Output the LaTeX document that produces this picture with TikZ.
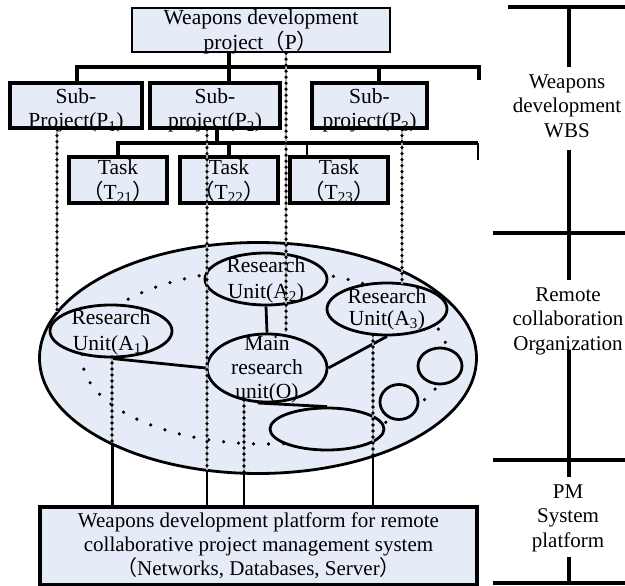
\documentclass[tikz,border=0pt]{standalone}
\usepackage{fontspec}
\setmainfont{Liberation Serif}
\newfontfamily\cjk{Noto Sans CJK SC}
\usetikzlibrary{shapes.geometric}
\definecolor{fillblue}{RGB}{229,235,247}
\newcommand{\lpar}{{\cjk （}}
\newcommand{\rpar}{{\cjk ）}}
\begin{document}
\begin{tikzpicture}[x=1pt,y=-1pt,
  every node/.style={font=\fontsize{21.5}{24.5}\selectfont, align=center, inner sep=0pt},
  box/.style={draw, line width=3.2pt, fill=fillblue},
  bar/.style={line width=4pt, line join=miter},
  thinbar/.style={line width=2pt},
  unit/.style={ellipse, draw, line width=2.8pt, fill=fillblue, inner sep=0pt},
  link/.style={line width=2.8pt},
  droplink/.style={line width=2.2pt},
  dotline/.style={draw=black!30, line width=1.5pt,
     postaction={draw=black, line width=3.6pt, line cap=round, dash pattern=on 0pt off 6pt}},
  ringdots/.style={line width=3.6pt, line cap=round, dash pattern=on 0pt off 15pt},
  rule/.style={line width=4pt},
  side/.style={font=\fontsize{21}{24.5}\selectfont}
]
\useasboundingbox (0,0) rectangle (625,586);

% ---------- WBS tree ----------
\node[box, line width=2.4pt, minimum width=258pt, minimum height=44pt] (p) at (261,30) {};
\node[box, minimum width=132pt, minimum height=45pt] (p1) at (76,105.5) {};
\node[box, minimum width=130pt, minimum height=45pt] (p2) at (215,105.5) {};
\node[box, minimum width=115pt, minimum height=45pt] (p3) at (369.5,105.5) {};
\node[box, minimum width=98pt, minimum height=46pt] (t21) at (118,180) {};
\node[box, minimum width=98pt, minimum height=46pt] (t22) at (229,180) {};
\node[box, minimum width=98pt, minimum height=46pt] (t23) at (339,180) {};

\node[yshift=-2pt] (pt) at (p.center) {Weapons development\\project\lpar P\rpar};
\node[yshift=-5pt] (p1t) at (p1.center) {Sub-\\Project(P\textsubscript{1})};
\node[yshift=-5pt] (p2t) at (p2.center) {Sub-\\project(P\textsubscript{2})};
\node[yshift=-5pt] (p3t) at (p3.center) {Sub-\\project(P\textsubscript{3})};
\node[yshift=-1pt] (t21t) at (t21.center) {Task\\\lpar T\textsubscript{21}\rpar};
\node[yshift=-1pt] (t22t) at (t22.center) {Task\\\lpar T\textsubscript{22}\rpar};
\node[yshift=-1pt] (t23t) at (t23.center) {Task\\\lpar T\textsubscript{23}\rpar};

\coordinate (ja) at (77,67);
\coordinate (j0) at (229,67);
\coordinate (jb) at (379,67);
\coordinate (jc) at (479,67);
\coordinate (jd) at (479,80);
\draw[bar] (p1.north -| ja) -- (ja) -- (jc) -- (jd);
\draw[bar] (p.south -| j0) -- (p2.north -| j0);
\draw[bar] (jb) -- (p3.north -| jb);

\coordinate (k0) at (217,143);
\coordinate (k1) at (118,143);
\coordinate (k2) at (229,143);
\coordinate (k3) at (307,143);
\coordinate (k4) at (478,143);
\coordinate (k5) at (478,160);
\draw[bar, line width=3.4pt] (t21.north -| k1) -- (k1) -- (k4);
\draw[thinbar] (k4) -- (k5);
\draw[bar, line width=3.4pt] (p2.south -| k0) -- (k0);
\draw[bar] (k2) -- (t22.north -| k2);
\draw[thinbar] (k3) -- (t23.north -| k3);

% ---------- organization ----------
\node[ellipse, draw, line width=2.8pt, fill=fillblue, minimum width=437pt, minimum height=231pt] (org) at (258,358) {};
\draw[ringdots] (265,357) ellipse [x radius=183pt, y radius=87pt];

\node[unit, minimum width=122pt, minimum height=52pt] (a1) at (111,331) {};
\node[unit, minimum width=122pt, minimum height=52pt] (a2) at (266,279) {};
\node[unit, minimum width=120pt, minimum height=52pt] (a3) at (387,309) {};
\node[unit, minimum width=120pt, minimum height=68pt] (o) at (267,368) {};
\node[unit, minimum width=44pt, minimum height=36pt] (s1) at (440,366) {};
\node[unit, minimum width=38pt, minimum height=35pt] (s2) at (399,402) {};
\node[unit, minimum width=114pt, minimum height=42pt] (bu) at (327,429) {};

\draw[link] (a1.south) -- (o.west);
\draw[link] (a2.south) -- (o.north);
\draw[link] (o.east) -- (a3.south);
\draw[link] (o.255) -- (bu.north);

\node[font=\fontsize{21.5}{26}\selectfont, yshift=-1pt] (a1t) at (a1.center) {Research\\Unit(A\textsubscript{1})};
\node[font=\fontsize{21.5}{26}\selectfont, yshift=-1pt] (a2t) at (a2.center) {Research\\Unit(A\textsubscript{2})};
\node[font=\fontsize{21.5}{22}\selectfont] (a3t) at (a3.center) {Research\\Unit(A\textsubscript{3})};
\node[font=\fontsize{21.5}{24}\selectfont, yshift=-2pt] (ot) at (o.center) {Main\\research\\unit(O)};

% ---------- platform ----------
\node[box, minimum width=437pt, minimum height=78pt, font=\fontsize{21}{24}\selectfont] (plat) at (258.5,546)
  {Weapons development platform for remote\\collaborative project management system\\\lpar Networks, Databases, Server\rpar};

% ---------- dotted links ----------
\coordinate (d1) at (57,312);
\coordinate (d2) at (207,470);
\coordinate (d3) at (286,332);
\coordinate (d4) at (402,284);
\coordinate (d5a) at (112,357);
\coordinate (d5) at (112,443);
\coordinate (d6a) at (244,400);
\coordinate (d6) at (244,473);
\coordinate (d7a) at (373,335);
\coordinate (d7) at (373,456);

\draw[dotline] (p1.south -| d1) -- (d1);
\draw[dotline] (p2.south -| d2) -- (d2);
\draw[dotline] (p.south -| d3) -- (d3);
\draw[dotline] (p3.south -| d4) -- (d4);
\draw[dotline] (d5a) -- (d5);
\draw[dotline] (d6a) -- (d6);
\draw[dotline] (d7a) -- (d7);

\draw[line width=3pt] (d5) -- (plat.north -| d5);
\draw[droplink] (d2) -- (plat.north -| d2);
\draw[droplink] (d6) -- (plat.north -| d6);
\draw[line width=1.8pt] (d7) -- (plat.north -| d7);

% ---------- right column ----------
\coordinate (r0) at (569,7);
\coordinate (r1) at (569,67);
\coordinate (r2) at (569,150);
\coordinate (r3) at (569,280);
\coordinate (r4) at (569,350);
\coordinate (r5) at (569,477);
\coordinate (r6) at (569,557);
\coordinate (r7) at (569,583);
\node[side] (wbs) at (567,106) {Weapons\\development\\WBS};
\node[side] (rco) at (568,321) {Remote\\collaboration\\Organization};
\node[side] (pms) at (568,518) {PM\\System\\platform};
\draw[rule] (r0) -- (r1);
\draw[rule] (r2) -- (r3);
\draw[rule] (r4) -- (r5);
\draw[rule] (r6) -- (r7);
\coordinate (h0a) at (508,7);   \coordinate (h0b) at (625,7);
\coordinate (h1a) at (493,233); \coordinate (h1b) at (625,233);
\coordinate (h2a) at (493,460); \coordinate (h2b) at (625,460);
\coordinate (h3a) at (493,583); \coordinate (h3b) at (625,583);
\draw[rule] (h0a) -- (h0b);
\draw[rule] (h1a) -- (h1b);
\draw[rule] (h2a) -- (h2b);
\draw[rule] (h3a) -- (h3b);
\end{tikzpicture}
\end{document}
